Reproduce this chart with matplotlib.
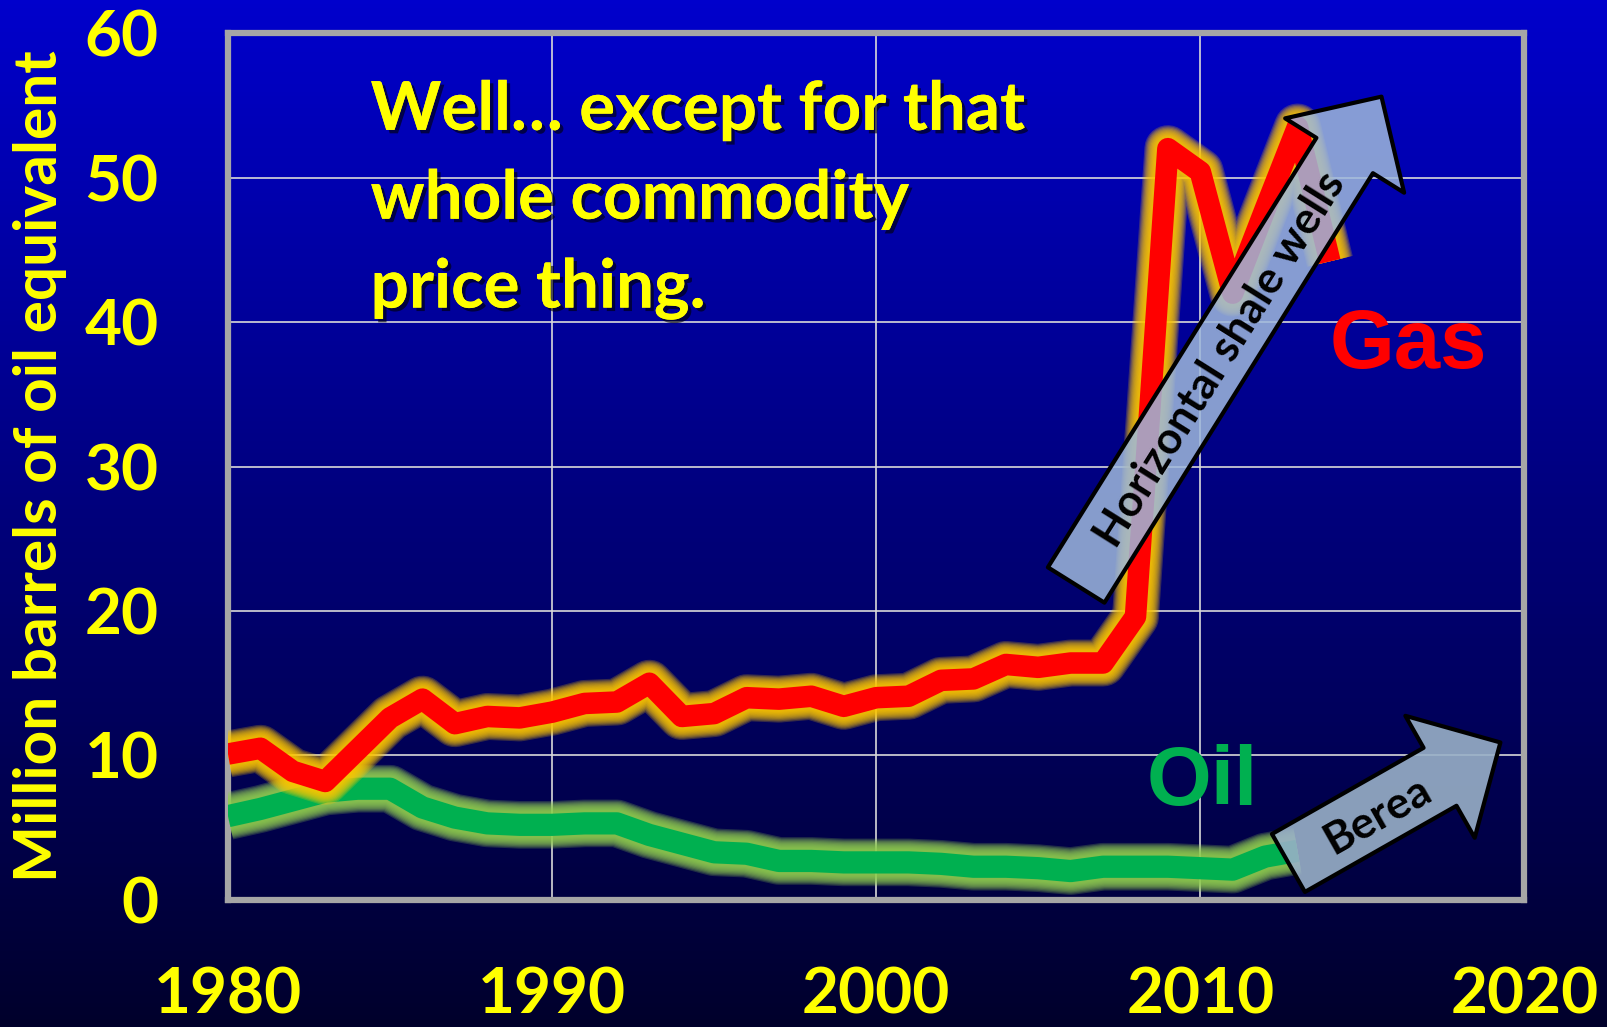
import numpy as np
import matplotlib
matplotlib.use('Agg')
import matplotlib.pyplot as plt
import matplotlib.patheffects as pe

# production, million barrels of oil equivalent
gas_years = list(range(1980, 2015))
gas = [10.1, 10.5, 8.9, 8.2, 10.4, 12.6, 13.9, 12.2, 12.7, 12.6,
       13.0, 13.6, 13.7, 15.0, 12.7, 12.9, 14.0, 13.9, 14.1, 13.4,
       14.0, 14.1, 15.2, 15.3, 16.3, 16.1, 16.4, 16.4, 19.6, 52.0,
       50.4, 42.0, 47.8, 53.5, 44.2]
oil_years = list(range(1980, 2014))
oil = [5.8, 6.3, 6.9, 7.5, 7.7, 7.7, 6.4, 5.7, 5.3, 5.2,
       5.2, 5.3, 5.3, 4.5, 3.9, 3.3, 3.2, 2.7, 2.7, 2.6,
       2.6, 2.6, 2.5, 2.3, 2.3, 2.2, 2.0, 2.3, 2.3, 2.3,
       2.2, 2.1, 3.0, 3.4]

x_ticks = [1980, 1990, 2000, 2010, 2020]
y_ticks = [0, 10, 20, 30, 40, 50, 60]
title_lines = ['Well\u2026 except for that', 'whole commodity', 'price thing.']

YELLOW = '#FFFF00'
FONT = 'Lato'

fig = plt.figure(figsize=(16.08, 10.27), dpi=100)

# background gradient
bg = fig.add_axes([0, 0, 1, 1])
grad = np.linspace(0, 1, 256).reshape(-1, 1)
top = np.array([0.0, 0.0, 0.80])
bot = np.array([0.0, 0.0, 0.17])
img = top[None, None, :] * (1 - grad[:, :, None]) + bot[None, None, :] * grad[:, :, None]
bg.imshow(img, aspect='auto', extent=[0, 1, 0, 1])
bg.axis('off')

ax = fig.add_axes([0.1418, 0.1237, 0.8062, 0.8441])
ax.set_facecolor('none')
ax.set_xlim(1980, 2020)
ax.set_ylim(0, 60)
ax.set_xticks(x_ticks)
ax.set_yticks(y_ticks)
ax.grid(True, color='#D9D9D9', lw=1.2)
ax.set_axisbelow(True)
for s in ax.spines.values():
    s.set_color('#A6A6A6')
    s.set_linewidth(4.5)
ax.tick_params(length=0, labelcolor=YELLOW, labelsize=46)
ax.tick_params(axis='y', pad=50)
ax.tick_params(axis='x', pad=48)
for lab in ax.get_xticklabels() + ax.get_yticklabels():
    lab.set_fontfamily(FONT)
    lab.set_fontweight('bold')

ax.set_ylabel('Million barrels of oil equivalent', color=YELLOW, fontsize=43.5,
              fontweight='bold', family=FONT, va='baseline')
ax.yaxis.set_label_coords(-0.132, 0.5)


def glow_line(x, y, color, glow, lw, z):
    # soft halo built from stacked translucent strokes
    for k in range(10):
        ax.plot(x, y, color=glow, lw=lw + 3 + 1.7 * k, alpha=0.22,
                solid_joinstyle='round', solid_capstyle='butt', zorder=z)
    ax.plot(x, y, color=color, lw=lw, solid_joinstyle='round',
            solid_capstyle='butt', zorder=z + 0.5)


glow_line(oil_years, oil, '#00B050', '#92D050', 16, 3)
glow_line(gas_years, gas, '#FF0000', '#FFC800', 15.5, 4)

# headline
shadow = [pe.withSimplePatchShadow(offset=(2.5, -2.5), shadow_rgbFace='black', alpha=0.6), pe.Normal()]
for i, line in enumerate(title_lines):
    ax.text(1984.4, 53.3 - i * 6.15, line, color=YELLOW, fontsize=48.5, fontweight='bold',
            family=FONT, va='baseline', ha='left', zorder=6, path_effects=shadow)

ax.text(2014.0, 36.8, 'Gas', color='#FF0000', fontsize=60, fontweight='bold',
        family='Liberation Sans', va='baseline', ha='left', zorder=6)
ax.text(2008.35, 6.6, 'Oil', color='#00B050', fontsize=60, fontweight='bold',
        family='Liberation Sans', va='baseline', ha='left', zorder=6)

# arrows
arrow_style = 'simple,head_length=50,head_width=101,tail_width=48'
ax.annotate('', xy=(2015.59, 55.6), xytext=(2006.17, 21.8), zorder=7,
            arrowprops=dict(arrowstyle=arrow_style, mutation_scale=1, shrinkA=0, shrinkB=0,
                            fc=(0.62, 0.72, 0.86, 0.85), ec='black', lw=3))
ax.text(2010.6, 37.4, 'Horizontal shale wells', rotation=57.9, rotation_mode='anchor',
        ha='center', va='center', fontsize=32, fontweight='bold', family=FONT,
        color='black', zorder=8)

ax.annotate('', xy=(2019.26, 10.9), xytext=(2012.72, 2.56), zorder=7,
            arrowprops=dict(arrowstyle=arrow_style, mutation_scale=1, shrinkA=0, shrinkB=0,
                            fc=(0.60, 0.69, 0.78, 0.9), ec='black', lw=3))
ax.text(2015.46, 5.9, 'Berea', rotation=29.5, rotation_mode='anchor',
        ha='center', va='center', fontsize=32, fontweight='bold', family=FONT,
        color='black', zorder=8)

fig.savefig('out.png', dpi=100)
